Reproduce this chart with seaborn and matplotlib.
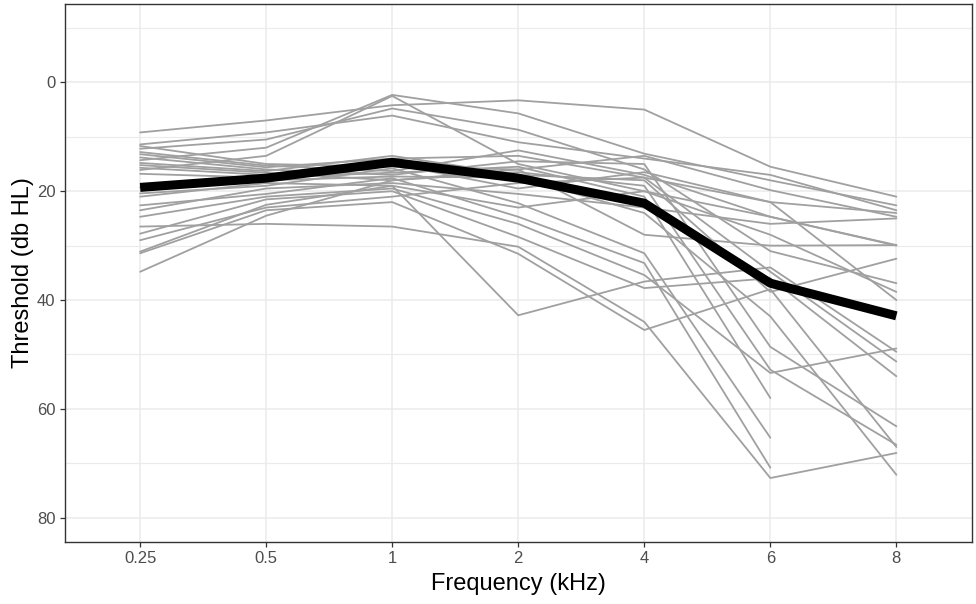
import matplotlib
matplotlib.use("Agg")
import matplotlib.pyplot as plt
import numpy as np
import pandas as pd
import seaborn as sns

# === 数据 ===
freq_labels = ["0.25", "0.5", "1", "2", "4", "6", "8"]
# 平均听阈 (dB HL)
mean_threshold = [19.3, 17.6, 14.7, 17.6, 22.2, 36.9, 42.9]
# 每位受试者的听阈, 顺序同 freq_labels (nan = 未测)
nan = np.nan
listener_thresholds = [
    [9.2, 7.0, 4.2, 3.3, 5.0, 15.5, 21.0],
    [14.3, 12.0, 2.3, 5.7, 13.1, 18.0, 22.6],
    [16.1, 13.5, 2.5, 15.0, 20.0, 24.7, 30.0],
    [11.4, 9.2, 6.1, 11.0, 14.0, 17.0, 23.5],
    [12.2, 10.5, 4.8, 8.7, 16.0, 31.0, 36.9],
    [11.7, 15.0, 15.5, 16.0, 13.5, 19.8, 24.7],
    [12.8, 15.3, 16.3, 12.5, 17.0, 24.7, 29.9],
    [13.2, 15.6, 14.0, 13.5, 17.5, 34.8, 51.3],
    [13.8, 16.0, 17.0, 14.5, 15.0, 48.6, 63.2],
    [14.8, 16.3, 13.5, 17.0, 18.0, 38.5, 32.4],
    [15.2, 16.6, 18.0, 16.5, 19.0, 52.8, 66.6],
    [15.7, 17.0, 15.0, 19.5, 16.5, 22.0, 24.0],
    [16.8, 17.5, 16.6, 15.5, 21.0, 58.0, nan],
    [19.3, 18.0, 17.3, 17.5, 24.0, 43.0, 72.1],
    [20.4, 19.0, 15.8, 22.2, 31.4, 65.3, nan],
    [21.0, 18.5, 19.0, 23.0, 20.0, 28.0, 38.5],
    [22.6, 20.5, 17.6, 24.7, 33.2, 70.8, nan],
    [23.5, 19.5, 18.5, 20.5, 23.0, 26.0, 25.0],
    [24.7, 21.0, 19.5, 26.0, 35.4, 53.4, 48.9],
    [26.5, 26.0, 26.5, 30.2, 44.0, 72.7, 68.1],
    [27.8, 21.5, 20.0, 28.4, 37.8, 36.0, 54.0],
    [29.0, 23.0, 21.0, 18.5, 17.5, 22.0, 40.0],
    [31.1, 22.5, 19.0, 42.8, 36.6, 34.0, 49.5],
    [31.4, 23.5, 22.0, 31.5, 45.5, 38.0, 67.0],
    [34.8, 24.5, 18.0, 16.0, 28.0, 30.0, 29.9],
]

rows = []
for i, vals in enumerate(listener_thresholds):
    for f, v in zip(freq_labels, vals):
        rows.append({"listener": i, "freq": f, "threshold": v})
df = pd.DataFrame(rows).dropna()
mean_df = pd.DataFrame({"freq": freq_labels, "threshold": mean_threshold})

# === 样式 (仿 ggplot theme_bw) ===
sns.set_theme(style="white")
plt.rcParams['font.family'] = ['Liberation Sans', 'DejaVu Sans']

fig = plt.figure(figsize=(9.76, 6.04), dpi=100)
ax = fig.add_axes([64.5 / 976, 1 - 541.7 / 604, 907.5 / 976, 537.7 / 604])

sns.lineplot(data=df, x="freq", y="threshold", units="listener", estimator=None,
             color="#A0A0A0", linewidth=1.3, ax=ax, sort=False)
sns.lineplot(data=mean_df, x="freq", y="threshold", color="black",
             linewidth=6.5, ax=ax, sort=False, solid_capstyle="butt",
             solid_joinstyle="round")

ax.set_xlim(-0.6, 6.6)
ax.set_ylim(84.4, -14.4)
ax.set_yticks([0, 20, 40, 60, 80])
ax.set_yticks([-10, 10, 30, 50, 70], minor=True)
ax.set_axisbelow(True)
ax.grid(True, which="major", color="#EBEBEB", linewidth=1.1)
ax.grid(True, which="minor", axis="y", color="#EBEBEB", linewidth=0.8)

for s in ax.spines.values():
    s.set_color("#333333")
    s.set_linewidth(1.0)

ax.tick_params(axis="both", which="major", length=3.5, width=0.9, color="#333333",
               labelsize=12, labelcolor="#4D4D4D", pad=3, bottom=True, left=True)
ax.tick_params(axis="y", which="minor", length=0)

ax.set_xlabel("Frequency (kHz)", fontsize=17, color="black", labelpad=5)
ax.set_ylabel("Threshold (db HL)", fontsize=17, color="black", labelpad=2)

fig.savefig("out.png", dpi=100, facecolor="white")
plt.close(fig)
